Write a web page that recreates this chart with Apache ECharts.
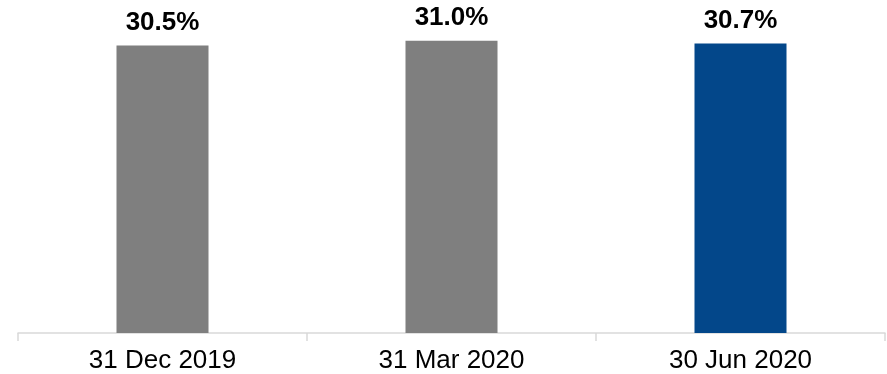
<!DOCTYPE html>
<html>
<head>
<meta charset="utf-8">
<script src="https://cdn.jsdelivr.net/npm/echarts@6/dist/echarts.min.js"></script>
<style>html,body{margin:0;padding:0;background:#fff}#c{width:887px;height:374px}</style>
</head>
<body>
<div id="c"></div>
<script>
const categories = ['31 Dec 2019', '31 Mar 2020', '30 Jun 2020'];
const values = [30.5, 31.0, 30.7];
const barColors = ['#7f7f7f', '#7f7f7f', '#03478a'];

const chart = echarts.init(document.getElementById('c'), null, {renderer: 'canvas'});
chart.setOption({
  animation: false,
  grid: {left: 18, right: 2, top: 3, bottom: 40, containLabel: false},
  xAxis: {
    type: 'category',
    data: categories,
    axisLine: {show: true, lineStyle: {color: '#d9d9d9', width: 1.5}},
    axisTick: {show: true, alignWithLabel: false, length: 8, lineStyle: {color: '#d9d9d9', width: 1.5}},
    axisLabel: {color: '#000', fontSize: 26, fontFamily: 'Liberation Sans, Arial, sans-serif', margin: 15}
  },
  yAxis: {
    type: 'value', min: 0, max: 35, show: false, splitLine: {show: false}
  },
  series: [{
    type: 'bar',
    barWidth: 92,
    data: values.map((v, i) => ({value: v, itemStyle: {color: barColors[i]}})),
    label: {
      show: true, position: 'top', distance: 10,
      formatter: p => p.value.toFixed(1) + '%',
      color: '#000', fontSize: 26, fontWeight: 'bold',
      fontFamily: 'Liberation Sans, Arial, sans-serif'
    }
  }]
});
</script>
</body>
</html>
